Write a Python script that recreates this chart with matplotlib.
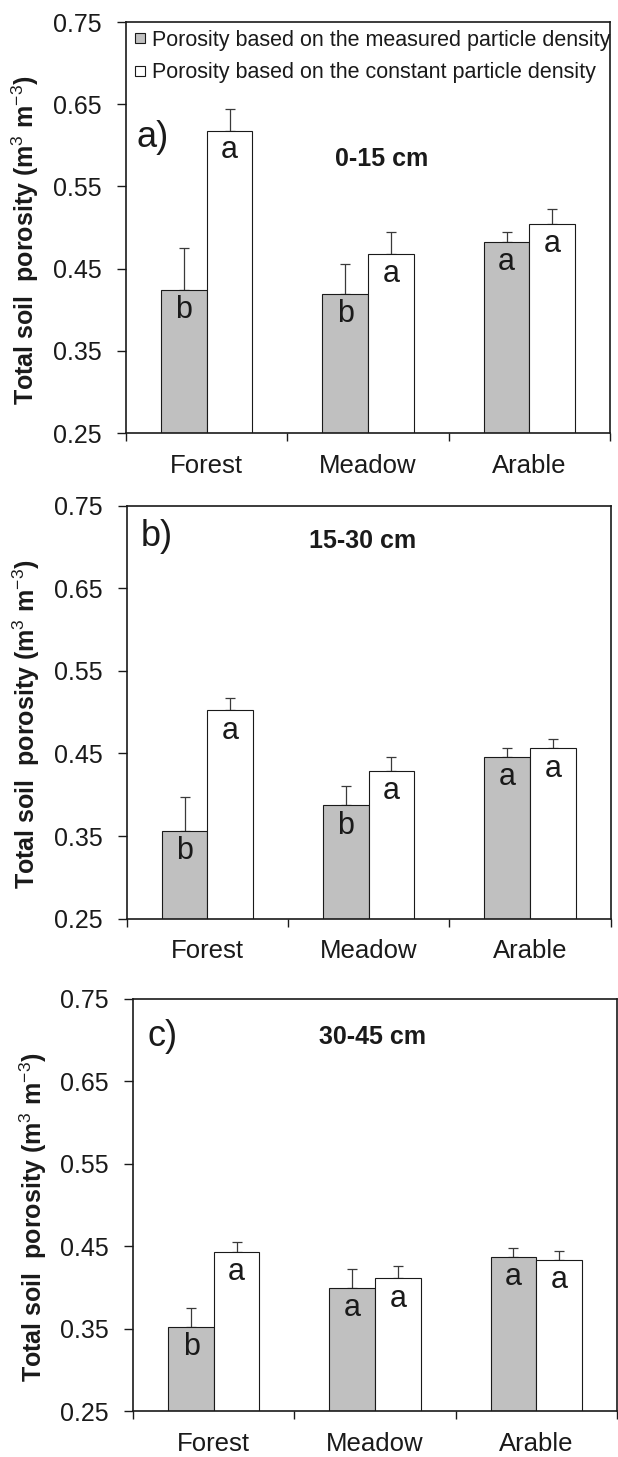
import matplotlib
matplotlib.use('Agg')
import matplotlib.pyplot as plt
import numpy as np
from matplotlib.lines import Line2D

plt.rcParams['font.family'] = ['Liberation Sans', 'DejaVu Sans']
plt.rcParams['mathtext.fontset'] = 'custom'
plt.rcParams['mathtext.rm'] = 'Liberation Sans'
plt.rcParams['mathtext.it'] = 'Liberation Sans:italic'
plt.rcParams['mathtext.bf'] = 'Liberation Sans:bold'

# data
categories = ['Forest', 'Meadow', 'Arable']
depths = ['0-15 cm', '15-30 cm', '30-45 cm']
panel_tags = ['a)', 'b)', 'c)']

measured_015 = [0.424, 0.419, 0.482]
measured_015_err = [0.051, 0.037, 0.012]
constant_015 = [0.618, 0.468, 0.504]
constant_015_err = [0.026, 0.026, 0.018]

measured_1530 = [0.356, 0.387, 0.446]
measured_1530_err = [0.041, 0.023, 0.010]
constant_1530 = [0.502, 0.429, 0.456]
constant_1530_err = [0.015, 0.017, 0.012]

measured_3045 = [0.352, 0.400, 0.437]
measured_3045_err = [0.023, 0.022, 0.011]
constant_3045 = [0.4435, 0.411, 0.4335]
constant_3045_err = [0.012, 0.015, 0.011]

letters_measured = [['b', 'b', 'a'], ['b', 'b', 'a'], ['b', 'a', 'a']]
letters_constant = [['a', 'a', 'a'], ['a', 'a', 'a'], ['a', 'a', 'a']]

measured = [measured_015, measured_1530, measured_3045]
measured_err = [measured_015_err, measured_1530_err, measured_3045_err]
constant = [constant_015, constant_1530, constant_3045]
constant_err = [constant_015_err, constant_1530_err, constant_3045_err]

GRAY = '#c0c0c0'
INK = '#1a1a1a'

fig = plt.figure(figsize=(6.18, 14.57), dpi=100)

# axes rectangles [left, bottom, width, height] in figure fractions
rects = [[0.2039, 0.7028, 0.7832, 0.2821],
         [0.2050, 0.3695, 0.7830, 0.2835],
         [0.2157, 0.0314, 0.7822, 0.2830]]
tag_pos = [(0.022, 0.72), (0.030, 0.924), (0.029, 0.908)]
depth_pos = [(0.529, 0.667), (0.488, 0.915), (0.494, 0.908)]

w = 0.283
x = np.arange(len(categories)) + 0.5

for i in range(3):
    ax = fig.add_axes(rects[i])
    ax.bar(x - w / 2, measured[i], w, bottom=0, color=GRAY, edgecolor=INK, linewidth=0.8, zorder=2)
    ax.bar(x + w / 2, constant[i], w, bottom=0, color='white', edgecolor=INK, linewidth=0.8, zorder=2)
    ax.errorbar(x - w / 2, measured[i], yerr=[np.zeros(3), measured_err[i]], fmt='none',
                ecolor='#3a3a3a', elinewidth=0.9, capsize=3.6, capthick=0.9, zorder=1)
    ax.errorbar(x + w / 2, constant[i], yerr=[np.zeros(3), constant_err[i]], fmt='none',
                ecolor='#3a3a3a', elinewidth=0.9, capsize=3.6, capthick=0.9, zorder=1)

    for j in range(3):
        ax.text(x[j] - w / 2, measured[i][j] - 0.034, letters_measured[i][j],
                ha='center', va='baseline', fontsize=22, color=INK, zorder=3)
        ax.text(x[j] + w / 2, constant[i][j] - 0.034, letters_constant[i][j],
                ha='center', va='baseline', fontsize=22, color=INK, zorder=3)

    ax.set_xlim(0, 3)
    ax.set_ylim(0.25, 0.75)
    ax.set_yticks(np.arange(0.25, 0.76, 0.1))
    ax.set_yticklabels(['%.2f' % v for v in np.arange(0.25, 0.76, 0.1)])
    ax.tick_params(axis='y', direction='out', length=6.5, width=1.0, pad=11,
                   labelsize=18, colors=INK)

    ax.set_xticks([0, 1, 2, 3])
    ax.set_xticklabels([])
    ax.set_xticks(x, minor=True)
    ax.set_xticklabels(categories, minor=True)
    ax.tick_params(axis='x', which='major', direction='out', length=6, width=1.0, colors=INK)
    ax.tick_params(axis='x', which='minor', length=0, pad=15, labelsize=18.5, colors=INK)

    for s in ax.spines.values():
        s.set_linewidth(1.2)
        s.set_color(INK)

    ax.set_ylabel(r'Total soil  porosity (m$^{3}$ m$^{-3}$)', fontsize=18,
                  fontweight='bold', color=INK)
    ax.yaxis.set_label_coords(-0.175, 0.47)

    ax.text(tag_pos[i][0], tag_pos[i][1], panel_tags[i], transform=ax.transAxes,
            ha='left', va='center', fontsize=26, color=INK)
    ax.text(depth_pos[i][0], depth_pos[i][1], depths[i], transform=ax.transAxes,
            ha='center', va='center', fontsize=18, fontweight='bold', color=INK)

    if i == 0:
        handles = [Line2D([], [], marker='s', linestyle='none', markersize=7.5,
                          markerfacecolor=GRAY, markeredgecolor=INK, markeredgewidth=0.8),
                   Line2D([], [], marker='s', linestyle='none', markersize=7.5,
                          markerfacecolor='white', markeredgecolor=INK, markeredgewidth=0.8)]
        ax.legend(handles, ['Porosity based on the measured particle density',
                            'Porosity based on the constant particle density'],
                  loc='upper left', bbox_to_anchor=(0.0, 1.0), frameon=False,
                  fontsize=15.5, handlelength=0.6, handletextpad=0.25,
                  borderaxespad=0.0, borderpad=0.35, labelspacing=0.55,
                  labelcolor=INK)

fig.savefig('out.png', dpi=100, facecolor='white')
